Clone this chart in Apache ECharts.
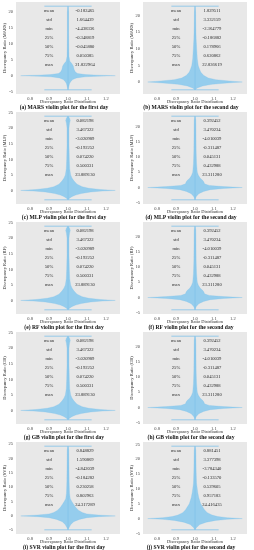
<!DOCTYPE html>
<html><head><meta charset="utf-8">
<script src="https://cdn.jsdelivr.net/npm/echarts@6/dist/echarts.min.js"></script>
<style>html,body{margin:0;padding:0;background:#fff}#c{width:254px;height:550px}</style>
</head><body><div id="c"></div>
<script>
// ---- data ----
const statNames = ['mean','std','min','25%','50%','75%','max'];
const models = ['MARS','MARS','MLP','MLP','RF','RF','GB','GB','SVR','SVR'];
const letters = ['a','b','c','d','e','f','g','h','i','j'];
const days = ['first','second','first','second','first','second','first','second','first','second'];

const statsMARS1 = ['-0.182465','1.664439','-4.438336','-0.348819','-0.045880','0.050385','21.822964'];
const statsMARS2 = ['1.829511','3.332159','-2.364779','-0.186882','0.178966','0.620862','22.836619'];
const statsMLP1  = ['0.082198','3.467322','-3.020989','-0.192252','0.074220','0.500331','23.889130'];
const statsMLP2  = ['0.392452','3.470234','-4.010039','-0.311487','0.045131','0.432988','23.311280'];
const statsSVR1  = ['0.848829','1.590869','-4.842039','-0.184282','0.230258','0.802963','24.317289'];
const statsSVR2  = ['0.881451','3.377398','-3.784340','-0.133570','0.529605','0.957183','24.416435'];

// violin profiles: value levels and half-widths
const yMARS1 = [-4.44,-3.5,-2.5,-1.8,-1.2,-0.7,-0.35,-0.15,0,0.15,0.35,0.7,1.2,2,3,3.8,4.5,6,9,14,20,21.82];
const wMARS1 = [0,0.004,0.008,0.015,0.025,0.045,0.09,0.16,0.25,0.16,0.09,0.05,0.038,0.032,0.028,0.02,0.01,0.005,0.004,0.003,0.003,0];
const yMARS2 = [-2.36,-1.8,-1.2,-0.7,-0.3,0,0.3,0.7,1.2,2,3,4,5,7,10,13,17,21,22.84];
const wMARS2 = [0,0.012,0.04,0.09,0.17,0.25,0.18,0.11,0.07,0.045,0.03,0.023,0.017,0.012,0.009,0.006,0.004,0.003,0];
const yMLP1 = [-3.02,-2.5,-2,-1.5,-1,-0.5,-0.2,0,0.3,0.7,1.2,2,3,4,5,7,10,15,20,21.5,22.5,23.3,23.89];
const wMLP1 = [0,0.008,0.02,0.04,0.07,0.12,0.18,0.25,0.17,0.11,0.075,0.048,0.032,0.021,0.014,0.009,0.007,0.005,0.005,0.008,0.012,0.008,0];
const yMLP2 = [-4.01,-3,-2,-1.3,-0.7,-0.3,0,0.3,0.7,1.2,1.8,2.4,3,4,5,8,12,18,22,23.31];
const wMLP2 = [0,0.006,0.02,0.045,0.08,0.15,0.25,0.15,0.075,0.05,0.047,0.04,0.028,0.018,0.012,0.008,0.006,0.005,0.004,0];
const ySVR1 = [-4.84,-4,-3,-2,-1.2,-0.6,-0.25,0,0.3,0.7,1.2,2,3,4,5,6,8,12,18,23,24.32];
const wSVR1 = [0,0.006,0.015,0.03,0.06,0.1,0.16,0.25,0.16,0.1,0.075,0.055,0.04,0.03,0.02,0.012,0.008,0.006,0.005,0.004,0];
const ySVR2 = [-3.78,-3,-2,-1.2,-0.6,-0.25,0,0.3,0.7,1.2,2,3,4,5,7,9,12,16,20,23,24.42];
const wSVR2 = [0,0.008,0.025,0.06,0.11,0.17,0.25,0.17,0.12,0.09,0.065,0.05,0.04,0.03,0.02,0.014,0.008,0.006,0.005,0.004,0];

const xTicks = [0.8,0.9,1.0,1.1,1.2];
const violinPos = 1;

const panels = [
  {y:yMARS1,w:wMARS1,s:statsMARS1},{y:yMARS2,w:wMARS2,s:statsMARS2},
  {y:yMLP1,w:wMLP1,s:statsMLP1},{y:yMLP2,w:wMLP2,s:statsMLP2},
  {y:yMLP1,w:wMLP1,s:statsMLP1},{y:yMLP2,w:wMLP2,s:statsMLP2},
  {y:yMLP1,w:wMLP1,s:statsMLP1},{y:yMLP2,w:wMLP2,s:statsMLP2},
  {y:ySVR1,w:wSVR1,s:statsSVR1},{y:ySVR2,w:wSVR2,s:statsSVR2}
];

// ---- layout / style ----
const FONT = '"Liberation Serif","DejaVu Serif",serif';
const FILL = 'rgba(128,198,238,0.8)';
const LINE = '#80c2ea';
const BG = '#e8e8e8';
const G = {left:16, top:2, w:104, h:92};

const grids=[], xAxes=[], yAxes=[], series=[], graphics=[];
panels.forEach((p,i)=>{
  const c=i%2, r=Math.floor(i/2);
  const ox=c*127, oy=r*110;
  const lo=p.y[0], hi=p.y[p.y.length-1], m=(hi-lo)*0.05;
  grids.push({left:ox+G.left, top:oy+G.top, width:G.w, height:G.h, show:true, backgroundColor:BG, borderWidth:0});
  xAxes.push({gridIndex:i, type:'value', min:0.725, max:1.275, splitNumber:5,
    axisLine:{show:false}, axisTick:{show:false}, splitLine:{show:false},
    axisLabel:{fontSize:4.5, fontFamily:FONT, color:'#444', margin:2.5,
      formatter:v=>{ const t=xTicks.find(k=>Math.abs(k-v)<1e-6); return t!==undefined? t.toFixed(1):''; }}});
  yAxes.push({gridIndex:i, type:'value', min:lo-m, max:hi+m, splitNumber:5,
    axisLine:{show:false}, axisTick:{show:false}, splitLine:{show:false},
    axisLabel:{fontSize:4.5, fontFamily:FONT, color:'#444', margin:3,
      formatter:v=>{ const k=v/5; return Math.abs(k-Math.round(k))<1e-6? String(Math.round(v)):''; }}});
  // violin body
  series.push({type:'custom', xAxisIndex:i, yAxisIndex:i, data:[[violinPos,0]], silent:true, z:2,
    renderItem:(params,api)=>{
      const pts=[];
      for(let k=0;k<p.y.length;k++) pts.push(api.coord([violinPos+p.w[k],p.y[k]]));
      for(let k=p.y.length-1;k>=0;k--) pts.push(api.coord([violinPos-p.w[k],p.y[k]]));
      const a=api.coord([violinPos,lo]), b=api.coord([violinPos,hi]);
      const t1=api.coord([violinPos-0.125,hi]), t2=api.coord([violinPos+0.125,hi]);
      const b1=api.coord([violinPos-0.125,lo]), b2=api.coord([violinPos+0.125,lo]);
      return {type:'group', children:[
        {type:'polygon', shape:{points:pts, smooth:0}, style:{fill:FILL, stroke:'rgba(120,192,234,0.85)', lineWidth:0.3}},
        {type:'line', shape:{x1:a[0],y1:a[1],x2:b[0],y2:b[1]}, style:{stroke:LINE, lineWidth:0.8}},
        {type:'line', shape:{x1:t1[0],y1:t1[1],x2:t2[0],y2:t2[1]}, style:{stroke:LINE, lineWidth:0.8}},
        {type:'line', shape:{x1:b1[0],y1:b1[1],x2:b2[0],y2:b2[1]}, style:{stroke:LINE, lineWidth:0.8}}
      ]};
    }});
  // stats table
  statNames.forEach((nm,k)=>{
    const ty=oy+10.5+k*9;
    graphics.push({type:'text', x:ox+49, y:ty, z:10, style:{text:nm, fontSize:4.6, fontFamily:FONT, fill:'#2a2a2a', align:'center', verticalAlign:'middle'}});
    graphics.push({type:'text', x:ox+85, y:ty, z:10, style:{text:p.s[k], fontSize:4.6, fontFamily:FONT, fill:'#2a2a2a', align:'center', verticalAlign:'middle'}});
  });
  // axis titles
  graphics.push({type:'text', x:ox+4.5, y:oy+48, rotation:Math.PI/2, style:{text:'Discrepancy Ratio ('+models[i]+')', fontSize:4.5, fontFamily:FONT, fill:'#333', align:'center', verticalAlign:'middle'}});
  graphics.push({type:'text', x:ox+68, y:oy+101.5, style:{text:'Discrepancy Ratio Distribution', fontSize:4.5, fontFamily:FONT, fill:'#333', align:'center', verticalAlign:'middle'}});
  graphics.push({type:'text', x:ox+64, y:oy+107.5, style:{text:'('+letters[i]+') '+models[i]+' violin plot for the '+days[i]+' day', fontSize:5.6, fontWeight:'bold', fontFamily:FONT, fill:'#111', align:'center', verticalAlign:'middle'}});
});

const chart=echarts.init(document.getElementById('c'),null,{renderer:'canvas'});
chart.setOption({animation:false, backgroundColor:'#fff', grid:grids, xAxis:xAxes, yAxis:yAxes, series:series, graphic:graphics});
</script></body></html>
